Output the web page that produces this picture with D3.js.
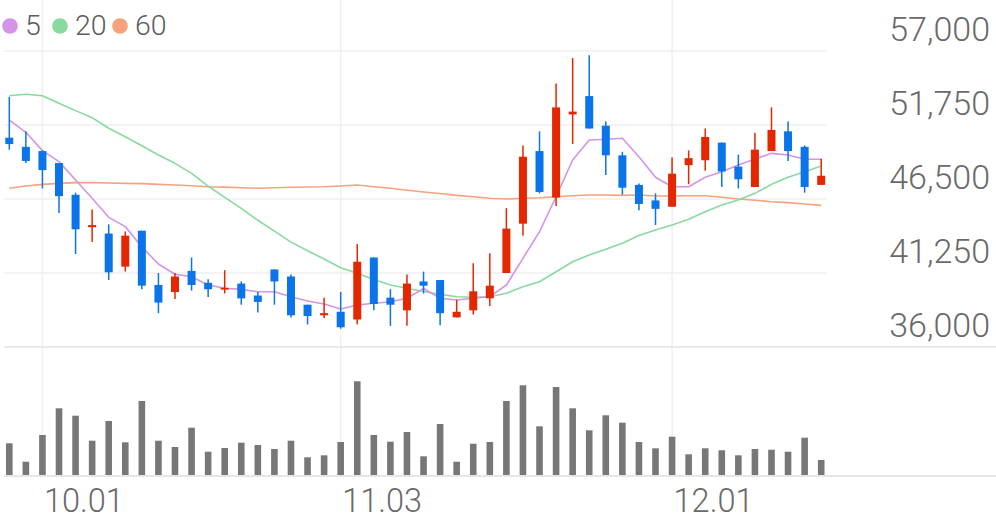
<!DOCTYPE html>
<html>
<head>
<meta charset="utf-8">
<script src="https://cdn.jsdelivr.net/npm/d3@7"></script>
<style>
  html, body { margin: 0; padding: 0; background: #fff; }
  svg { display: block; font-family: Roboto, "Noto Sans", sans-serif; }
</style>
</head>
<body>
<svg id="chart" width="996" height="519"></svg>
<script>
// ---------- DATA ----------
const dates = ["09.29","09.30","10.01","10.02","10.10","10.13","10.14","10.15","10.16","10.17",
  "10.20","10.21","10.22","10.23","10.24","10.27","10.28","10.29","10.30","10.31",
  "11.03","11.04","11.05","11.06","11.07","11.10","11.11","11.12","11.13","11.14",
  "11.17","11.18","11.19","11.20","11.21","11.24","11.25","11.26","11.27","11.28",
  "12.01","12.02","12.03","12.04","12.05","12.08","12.09","12.10","12.11","12.12"];

const open  = [50850,50200,49900,49050,46800,44500,44050,41700,44250,40400,
  39900,41400,40550,40100,40500,39650,41500,41000,39000,38250,
  38500,37950,42350,39500,38600,40650,40750,38100,38600,39450,
  41250,44750,49900,46600,52500,53800,51700,49600,47500,46400,
  45950,48900,49250,50500,48800,47350,49900,51300,50200,47500];
const high  = [53750,51300,49950,49050,46950,45750,44700,44200,44250,41250,
  41250,42350,40800,41450,40650,39900,41500,41150,39000,39500,
  39900,43300,42350,40100,41150,41350,40750,39350,41950,42650,
  45850,50300,51300,54700,56500,56700,52000,49850,47600,46900,
  49450,49950,51500,50500,49650,51200,53000,52000,50300,49350];
const low   = [50000,49050,47250,45500,42600,43450,40750,41350,40100,38400,
  39400,40000,39550,39800,39000,38450,39000,38100,37600,38050,
  37300,37600,38600,37500,37500,39800,37550,38100,38300,38900,
  41250,43900,46900,46000,50400,51500,48200,46800,45700,44650,
  45950,47550,48500,47350,47250,47350,49900,49200,46950,47500];
const close = [50400,49200,48550,46700,44350,44650,41300,43900,40350,39150,
  41000,40400,40100,40200,39450,39200,40650,38250,38200,38400,
  37400,42050,39050,39000,40500,40350,38400,38500,39950,40350,
  44400,49500,47000,53000,52700,51500,49600,47300,46150,45800,
  48300,49400,50900,48450,47900,50000,51400,49900,47350,48150];

const volume = [317000,133000,400000,667000,593000,343000,540000,327000,740000,343000,
  280000,473000,233000,270000,323000,300000,260000,343000,177000,197000,
  330000,937000,400000,333000,430000,187000,510000,133000,313000,330000,
  740000,897000,487000,880000,667000,447000,597000,523000,330000,267000,
  383000,207000,267000,247000,197000,260000,253000,233000,373000,150000];

const ma5  = [52100,51230,49930,49150,47850,46550,45200,44540,43100,41890,
  41160,40990,40400,40170,40090,39920,39920,39570,39260,39050,
  38700,38980,39100,39210,39460,40150,39460,39330,39460,39570,
  40400,42290,44180,46660,49270,50690,50740,50810,49500,48040,
  47370,47370,48040,48440,48910,49340,49740,49620,49320,49320];
const ma20 = [53830,53930,53830,53290,52770,52270,51520,50920,50280,49620,
  49030,48320,47420,46610,45830,44990,44220,43440,42830,42240,
  41620,41240,40790,40400,40170,39940,39740,39570,39530,39570,
  39810,40280,40630,41340,42050,42530,42930,43360,43910,44300,
  44660,45060,45600,46080,46430,46900,47540,48040,48440,48840];
const ma60 = [47260,47420,47540,47610,47660,47660,47640,47610,47590,47540,
  47490,47440,47370,47340,47300,47260,47300,47330,47350,47370,
  47420,47490,47370,47260,47120,47000,46890,46760,46660,46550,
  46500,46550,46590,46660,46730,46780,46780,46760,46780,46710,
  46710,46730,46730,46620,46500,46410,46310,46240,46150,46050];

const priceTicks = [36000, 41250, 46500, 51750, 57000];
const dateTicks  = ["10.01", "11.03", "12.01"];
const legendLabels = ["5", "20", "60"];

// ---------- STYLE ----------
const UP = "#e42700", DOWN = "#0a74e8";
const MA_COLORS = ["#d394e8", "#8ad99e", "#f5a27d"];
const TEXT = "#6a6a6a";

const svg = d3.select("#chart");
const W = 996;

const x = d3.scalePoint().domain(dates).range([9.3, 821.2]);
const y = d3.scaleLinear().domain([36000, 57000]).range([347, 51]);
const yv = d3.scaleLinear().domain([0, 1280000]).range([475, 347]);

// ---------- GRID ----------
const grid = svg.append("g");
grid.selectAll("line.h").data(priceTicks.slice(1)).enter().append("line")
  .attr("x1", 4).attr("x2", 827)
  .attr("y1", d => y(d)).attr("y2", d => y(d))
  .attr("stroke", "#efefef").attr("stroke-width", 1.5);
grid.selectAll("line.v").data(dateTicks).enter().append("line")
  .attr("x1", d => x(d)).attr("x2", d => x(d))
  .attr("y1", 0).attr("y2", 475)
  .attr("stroke", "#f0f0f0").attr("stroke-width", 1.5);
// panel separators
grid.append("line").attr("x1", 4).attr("x2", W).attr("y1", y(36000)).attr("y2", y(36000))
  .attr("stroke", "#eaeaea").attr("stroke-width", 2);
grid.append("line").attr("x1", 4).attr("x2", W).attr("y1", yv(0) + 1).attr("y2", yv(0) + 1)
  .attr("stroke", "#e6e6e6").attr("stroke-width", 2);

// ---------- VOLUME ----------
svg.append("g").selectAll("rect").data(volume).enter().append("rect")
  .attr("x", (d, i) => x(dates[i]) - 3.3)
  .attr("width", 6.6)
  .attr("y", d => yv(d))
  .attr("height", d => yv(0) - yv(d))
  .attr("fill", "#777777");

// ---------- MOVING AVERAGES ----------
const line = d3.line().x((d, i) => x(dates[i])).y(d => y(d));
[ma60, ma20, ma5].forEach((s, k) => {
  svg.append("path").datum(s)
    .attr("d", line)
    .attr("fill", "none")
    .attr("stroke", MA_COLORS[2 - k])
    .attr("stroke-width", 1.6)
    .attr("stroke-linejoin", "round");
});

// ---------- CANDLES ----------
const candles = svg.append("g").selectAll("g").data(dates).enter().append("g");
candles.append("line")
  .attr("x1", d => x(d)).attr("x2", d => x(d))
  .attr("y1", (d, i) => y(high[i])).attr("y2", (d, i) => y(low[i]))
  .attr("stroke", (d, i) => close[i] >= open[i] ? UP : DOWN)
  .attr("stroke-width", 1.5);
candles.append("rect")
  .attr("x", d => x(d) - 4)
  .attr("width", 8)
  .attr("y", (d, i) => y(Math.max(open[i], close[i])))
  .attr("height", (d, i) => Math.max(1.8, Math.abs(y(open[i]) - y(close[i]))))
  .attr("fill", (d, i) => close[i] >= open[i] ? UP : DOWN);

// ---------- AXES ----------
const fmt = d3.format(",");
const yAxis = svg.append("g").attr("transform", "translate(990,0)")
  .call(d3.axisLeft(y).tickValues(priceTicks).tickFormat(fmt).tickSize(0).tickPadding(0));
yAxis.select(".domain").remove();
yAxis.selectAll("text")
  .attr("x", 0).attr("y", -11).attr("dy", 0)
  .attr("text-anchor", "end")
  .attr("fill", TEXT)
  .style("font-family", "Roboto, sans-serif")
  .style("font-weight", 300)
  .style("font-size", "34px");

const xAxis = svg.append("g").attr("transform", "translate(0,475)")
  .call(d3.axisBottom(x).tickValues(dateTicks).tickSize(0).tickPadding(0));
xAxis.select(".domain").remove();
xAxis.selectAll("text")
  .attr("x", 1).attr("y", 37).attr("dy", 0)
  .attr("text-anchor", "start")
  .attr("fill", TEXT)
  .style("font-family", "Roboto, sans-serif")
  .style("font-weight", 300)
  .style("font-size", "32.5px");

// ---------- LEGEND ----------
const legendX = [10, 60, 120];
const legend = svg.append("g");
legendLabels.forEach((lab, k) => {
  legend.append("circle").attr("cx", legendX[k]).attr("cy", 26).attr("r", 7.8)
    .attr("fill", MA_COLORS[k]);
  legend.append("text").attr("x", legendX[k] + 15).attr("y", 35)
    .attr("fill", "#5c5c5c")
    .style("font-family", "Roboto, sans-serif")
    .style("font-weight", 300)
    .style("font-size", "28.5px")
    .text(lab);
});
</script>
</body>
</html>
